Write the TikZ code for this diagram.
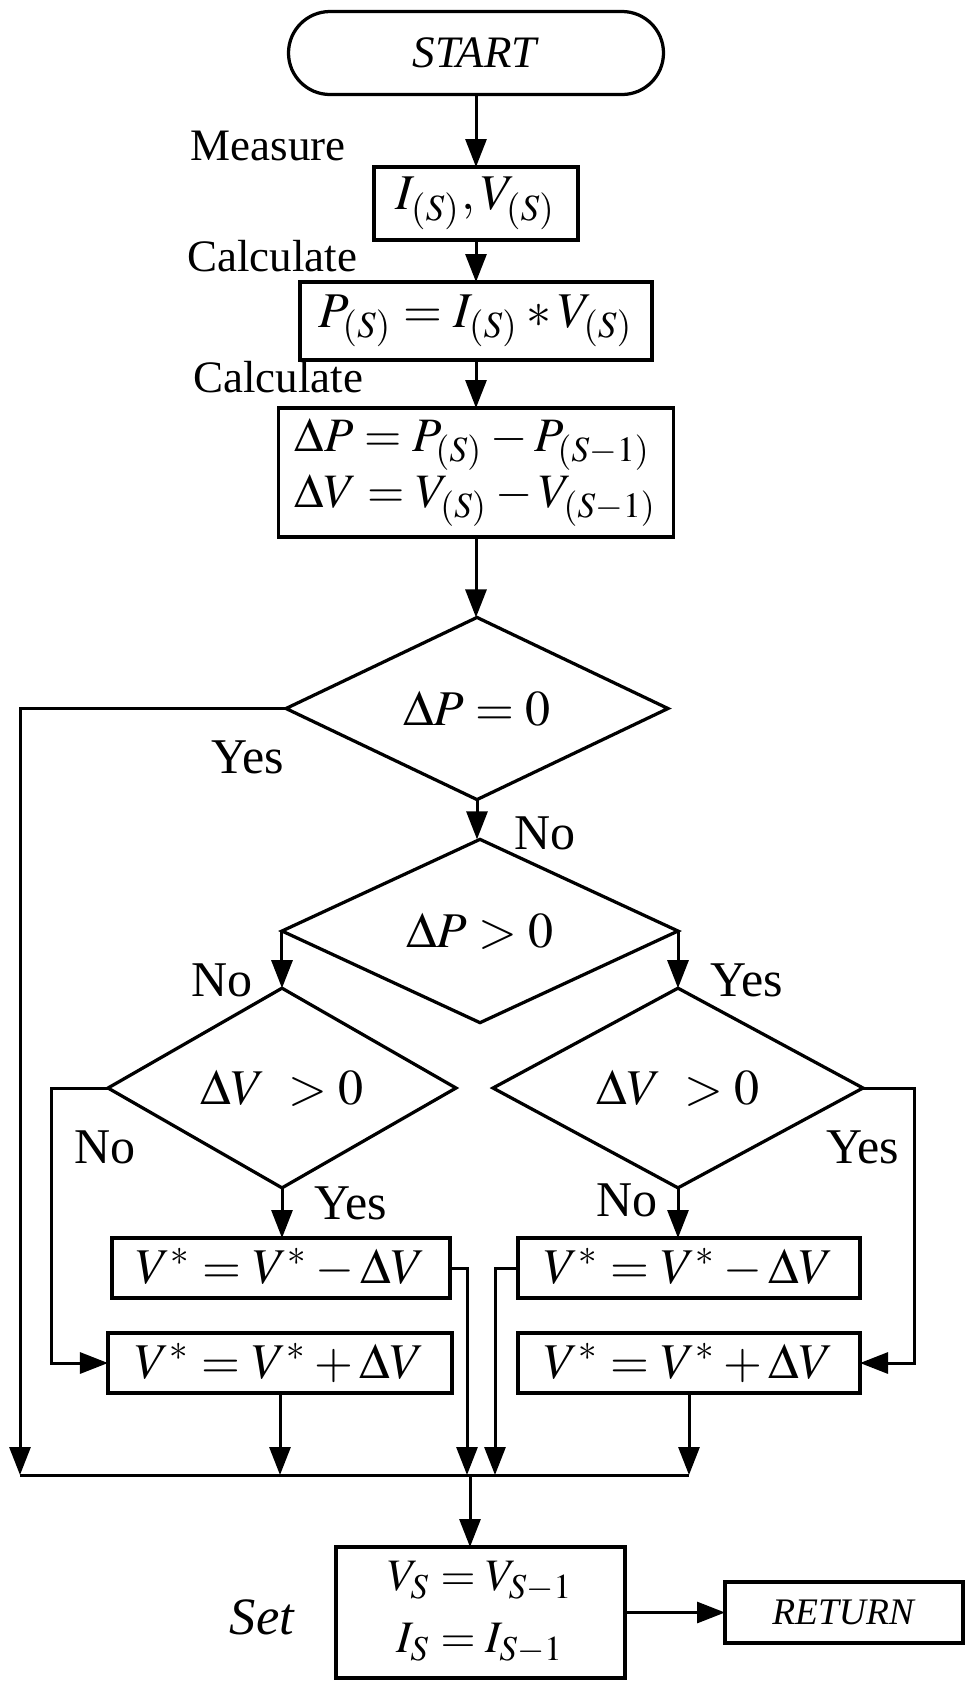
\documentclass[tikz,border=0pt]{standalone}
\usepackage{mathptmx}
\usepackage[no-math]{fontspec}
\setmainfont{Liberation Serif}
\usetikzlibrary{shapes.geometric,arrows.meta}
\begin{document}
\begin{tikzpicture}[x=0.2pt,y=-0.2pt,
  box/.style={draw, line width=0.65pt, inner sep=0pt, outer sep=0pt, font=\fontsize{10}{12}\selectfont},
  dia/.style={draw, diamond, line width=0.65pt, inner sep=0pt, outer sep=0pt, font=\fontsize{10}{12}\selectfont},
  term/.style={draw, line width=0.65pt, rounded corners=8.3pt, inner sep=0pt, outer sep=0pt, minimum width=75pt, minimum height=16.6pt, font=\fontsize{9}{11}\selectfont},
  arr/.style={-{Triangle[length=5.6pt,width=4.2pt]}, line width=0.6pt},
  ln/.style={line width=0.6pt},
  lbl/.style={font=\fontsize{10}{12}\selectfont, inner sep=0pt},
  side/.style={font=\fontsize{9}{11}\selectfont, inner sep=0pt}]
\useasboundingbox (0,0) rectangle (966,1682);
% main column
\node[term] (start) at (476,53) {\textit{START}};
\node[box, minimum width=40.8pt, minimum height=14.6pt] (b1) at (476,203.5) {$I_{(S)},V_{(S)}$};
\node[box, minimum width=70.4pt, minimum height=15.6pt] (b2) at (476,321) {$P_{(S)}=I_{(S)}*V_{(S)}$};
\node[box, minimum width=79pt, minimum height=25.8pt, align=left, font=\fontsize{9.6}{10}\selectfont] (b3) at (476,472.5)
  {$\Delta P = P_{(S)} - P_{(S-1)}$\\$\Delta V = V_{(S)} - V_{(S-1)}$};
\node[dia, minimum width=76.4pt, minimum height=34.6pt] (d1) at (477,708.5) {$\Delta P = 0$};
\node[dia, minimum width=79.2pt, minimum height=33.2pt] (d2) at (480,931) {$\Delta P > 0$};
\node[dia, minimum width=69.6pt, minimum height=27.2pt] (d3) at (282,1088) {$\Delta V\ > 0$};
\node[dia, minimum width=74pt, minimum height=31.2pt] (d4) at (678,1088) {$\Delta V\ > 0$};
\node[box, minimum width=67.6pt, minimum height=12pt] (lt) at (281,1268) {$V^{*} = V^{*} - \Delta V$};
\node[box, minimum width=68.8pt, minimum height=12pt] (lb) at (280,1363) {$V^{*} = V^{*} + \Delta V$};
\node[box, minimum width=68.4pt, minimum height=12pt] (rt) at (689,1268) {$V^{*} = V^{*} - \Delta V$};
\node[box, minimum width=68.4pt, minimum height=12pt] (rb) at (689,1363) {$V^{*} = V^{*} + \Delta V$};
\node[box, minimum width=57.8pt, minimum height=26.2pt, align=center, font=\fontsize{9}{12.4}\selectfont] (set) at (480.5,1612.5)
  {$V_S = V_{S-1}$\\$I_S = I_{S-1}$};
\node[box, minimum width=47.6pt, minimum height=12.2pt, font=\fontsize{7.5}{9}\selectfont] (ret) at (844,1612.5) {\textit{RETURN}};
% side labels
\node[side] (lmeas) at (268,146) {Measure};
\node[side] (lcal1) at (272,256) {Calculate};
\node[side] (lcal2) at (278,377) {Calculate};
\node[lbl] (y1) at (248,757) {Yes};
\node[lbl] (n1) at (545,833) {No};
\node[lbl] (n2) at (222,980) {No};
\node[lbl] (y2) at (747,980) {Yes};
\node[lbl] (n3) at (105,1147) {No};
\node[lbl] (y3) at (351,1203) {Yes};
\node[lbl] (n4) at (627,1200) {No};
\node[lbl] (y4) at (863,1147) {Yes};
\node[lbl, font=\fontsize{10.5}{12}\selectfont\itshape] (lset) at (262,1617) {Set};
% coordinates
\coordinate (m1) at (20,1475);
\coordinate (m0) at (470,1475);
\coordinate (c3) at (51,1088);
\coordinate (c4) at (914,1088);
\coordinate (c5) at (467,1268);
\coordinate (c6) at (495,1268);
% connectors
\draw[arr] (start.south) -- (b1.north);
\draw[arr] (b1.south) -- (b2.north);
\draw[arr] (b2.south) -- (b3.north);
\draw[arr] (b3.south) -- (b3.south |- d1.north);
\draw[arr] (d1.south) -- (d1.south |- d2.north);
\draw[arr] (d1.west) -| (m1);
\draw[arr] (d2.west) -- (d2.west |- d3.north);
\draw[arr] (d2.east) -- (d2.east |- d4.north);
\draw[arr] (d3.south) -- (d3.south |- lt.north);
\draw[arr] (d4.south) -- (d4.south |- rt.north);
\draw[arr] (d3.west) -- (c3) |- (lb.west);
\draw[arr] (d4.east) -- (c4) |- (rb.east);
\draw[arr] (lt.east) -- (c5) -- (c5 |- m1);
\draw[arr] (rt.west) -- (c6) -- (c6 |- m1);
\draw[arr] (lb.south) -- (lb.south |- m1);
\draw[arr] (rb.south) -- (rb.south |- m1);
\draw[ln] (m1) -- (rb.south |- m1);
\draw[arr] (m0) -- (m0 |- set.north);
\draw[arr] (set.east) -- (ret.west);
\end{tikzpicture}
\end{document}
